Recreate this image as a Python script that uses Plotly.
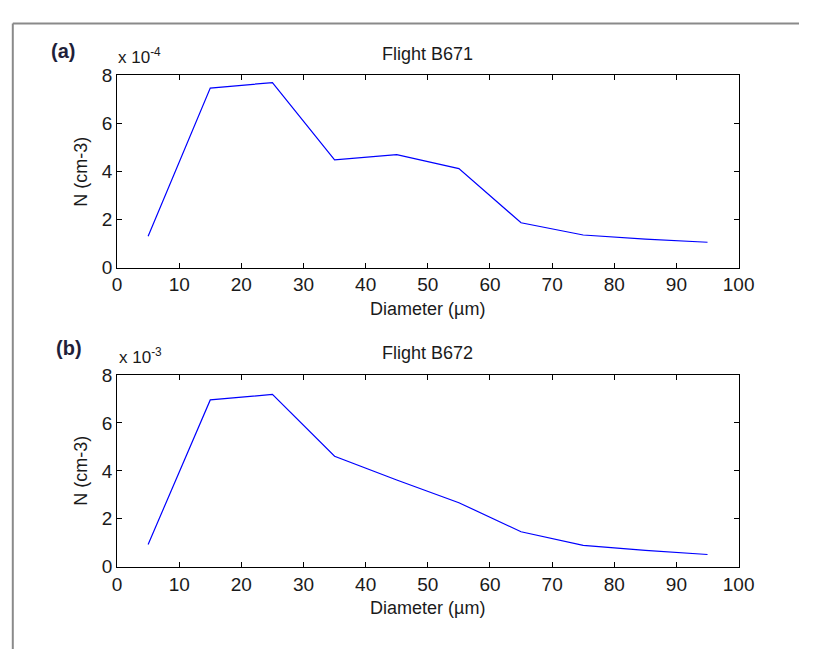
import plotly.graph_objects as go

# Particle size distributions for two flights
diameter = [5, 15, 25, 35, 45, 55, 65, 75, 85, 95]
n_b671 = [1.30, 7.45, 7.68, 4.47, 4.69, 4.11, 1.86, 1.35, 1.18, 1.05]   # x 1e-4 cm-3
n_b672 = [0.93, 6.96, 7.19, 4.61, 3.62, 2.67, 1.46, 0.89, 0.68, 0.51]   # x 1e-3 cm-3

x_ticks = list(range(0, 101, 10))
y_ticks = [0, 2, 4, 6, 8]

W, H = 815, 660
FONT = "Liberation Sans, Arial, sans-serif"
TICK_FONT = "Liberation Sans Narrow, Arial Narrow, sans-serif"
INK = "#1a1a1a"

fig = go.Figure()
fig.add_trace(go.Scatter(x=diameter, y=n_b671, mode="lines",
                         line=dict(color="#0000ff", width=1.2),
                         xaxis="x", yaxis="y", showlegend=False))
fig.add_trace(go.Scatter(x=diameter, y=n_b672, mode="lines",
                         line=dict(color="#0000ff", width=1.2),
                         xaxis="x2", yaxis="y2", showlegend=False))


def px(v):
    return v / W


def py(v):
    return 1 - v / H


x_dom = [px(115), px(753)]
dom_a = [py(266), py(67)]
dom_b = [py(575), py(377)]

axis_common = dict(showline=True, linecolor="black", linewidth=1, mirror="allticks",
                   ticks="inside", ticklen=5, tickwidth=1, tickcolor="black",
                   showgrid=False, zeroline=False,
                   tickfont=dict(family=TICK_FONT, size=19, color=INK))

fig.update_layout(
    width=W, height=H,
    margin=dict(l=0, r=0, t=0, b=0),
    paper_bgcolor="white", plot_bgcolor="white",
    xaxis=dict(domain=x_dom, anchor="y", range=[0, 100], tickvals=x_ticks, **axis_common),
    yaxis=dict(domain=dom_a, anchor="x", range=[0, 8], tickvals=y_ticks, **axis_common),
    xaxis2=dict(domain=x_dom, anchor="y2", range=[0, 100], tickvals=x_ticks, **axis_common),
    yaxis2=dict(domain=dom_b, anchor="x2", range=[0, 8], tickvals=y_ticks, **axis_common),
)

txt = dict(family=FONT, size=18, color=INK)
lbl = dict(family=FONT, size=20, color="#1f1f3a")
annots = [
    # panel (a)
    dict(x=px(434), y=py(45), text="Flight B671"),
    dict(x=px(434), y=py(309), text="Diameter (µm)"),
    dict(x=px(78), y=py(167), text="N (cm-3)", textangle=-90),
    dict(x=px(114), y=py(48), text="x 10<sup>-4</sup>", xanchor="left",
         font=dict(family=FONT, size=17, color=INK)),
    dict(x=px(60), y=py(42), text="<b>(a)</b>", font=lbl),
    # panel (b)
    dict(x=px(434), y=py(354), text="Flight B672"),
    dict(x=px(434), y=py(618), text="Diameter (µm)"),
    dict(x=px(78), y=py(476), text="N (cm-3)", textangle=-90),
    dict(x=px(115), y=py(357), text="x 10<sup>-3</sup>", xanchor="left",
         font=dict(family=FONT, size=17, color=INK)),
    dict(x=px(66), y=py(349), text="<b>(b)</b>", font=lbl),
]
for a in annots:
    a.setdefault("font", txt)
    a.setdefault("xanchor", "center")
    fig.add_annotation(xref="paper", yref="paper", yanchor="middle", showarrow=False, **a)

# Gray frame around the figure
frame = dict(type="line", xref="paper", yref="paper", line=dict(color="#8a8a8a", width=2))
fig.add_shape(x0=px(8), x1=1, y0=py(14), y1=py(14), **frame)
fig.add_shape(x0=px(8), x1=px(8), y0=py(14), y1=0, **frame)

fig.write_html("out.html")
